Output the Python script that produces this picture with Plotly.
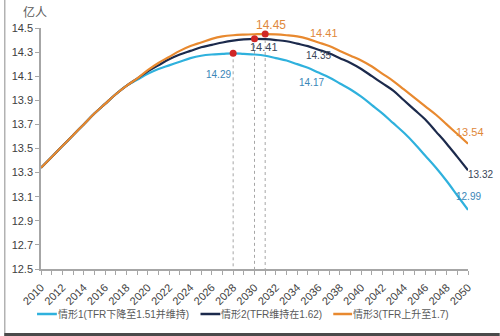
import plotly.graph_objects as go

# Population projections, 亿人, 2010-2050
years = list(range(2010, 2051))

scenario1 = [13.34, 13.43, 13.52, 13.61, 13.70, 13.79, 13.87, 13.95, 14.02,
             14.07, 14.12, 14.16, 14.19, 14.22, 14.25, 14.27, 14.28, 14.285, 14.29,
             14.285, 14.28, 14.27, 14.25, 14.23, 14.20, 14.17, 14.13, 14.09, 14.04,
             13.99, 13.93, 13.86, 13.79, 13.71, 13.63, 13.54, 13.44, 13.34, 13.23,
             13.11, 12.99]
scenario2 = [13.34, 13.43, 13.52, 13.61, 13.70, 13.79, 13.87, 13.95, 14.02,
             14.08, 14.14, 14.19, 14.24, 14.28, 14.31, 14.34, 14.36, 14.38, 14.395,
             14.405, 14.41, 14.407, 14.40, 14.39, 14.37, 14.35, 14.32, 14.29, 14.25,
             14.21, 14.16, 14.10, 14.04, 13.98, 13.90, 13.82, 13.74, 13.64, 13.54,
             13.43, 13.32]
scenario3 = [13.34, 13.43, 13.52, 13.61, 13.70, 13.79, 13.87, 13.95, 14.02,
             14.08, 14.15, 14.21, 14.26, 14.31, 14.35, 14.38, 14.41, 14.43, 14.44,
             14.445, 14.448, 14.45, 14.447, 14.44, 14.43, 14.41, 14.38, 14.35, 14.31,
             14.27, 14.23, 14.18, 14.12, 14.06, 13.99, 13.92, 13.85, 13.78, 13.70,
             13.62, 13.54]

names = ["情形1(TFR下降至1.51并维持)", "情形2(TFR维持在1.62)", "情形3(TFR上升至1.7)"]
line_colors = ["#2FB1DD", "#1C2A4C", "#E8892F"]
label_colors = ["#3A86B8", "#3A4658", "#E0883A"]
series = [scenario1, scenario2, scenario3]

x_ticks = list(range(2010, 2051, 2))
y_ticks = [12.5, 12.7, 12.9, 13.1, 13.3, 13.5, 13.7, 13.9, 14.1, 14.3, 14.5]

W, H = 500, 336
L, R, T, B = 37, 32, 28, 67
PW, PH = W - L - R, H - T - B


def px(xp):
    return (xp - L) / PW


def py(yp):
    return (H - B - yp) / PH


FONT = "Liberation Sans, Noto Sans CJK SC, sans-serif"

fig = go.Figure()

# main curves
for vals, col in zip(series, line_colors):
    fig.add_trace(go.Scatter(x=years, y=vals, mode="lines",
                             line=dict(color=col, width=2.2, shape="spline"),
                             showlegend=False, hoverinfo="skip"))

# peak markers with dotted drop lines to the axis
peak_idx = [max(range(len(s)), key=lambda i: s[i]) for s in series]
for s, i in zip(series, peak_idx):
    fig.add_trace(go.Scatter(x=[years[i], years[i]], y=[s[i], y_ticks[0]], mode="lines",
                             line=dict(color="#A6A6A6", width=1, dash="dot"),
                             showlegend=False, hoverinfo="skip"))
for s, i in zip(series, peak_idx):
    fig.add_trace(go.Scatter(x=[years[i]], y=[s[i]], mode="markers",
                             marker=dict(color="#D02626", size=7),
                             showlegend=False, hoverinfo="skip"))

# value labels: (series, year, xshift, yshift, size)
labels = [
    (0, years[peak_idx[0]], -15, -21, 10),
    (1, years[peak_idx[1]], 9, -8, 11),
    (2, years[peak_idx[2]], 6, 9, 12),
    (2, 2035, 16, 6, 11),
    (1, 2035, 11, -9, 10),
    (0, 2035, 4, -15, 10),
    (2, 2050, 2, 12, 11),
    (1, 2050, 12, -4, 10),
    (0, 2050, 0, 13, 10),
]
for si, yr, dx, dy, fs in labels:
    v = series[si][years.index(yr)]
    fig.add_annotation(x=yr, y=v, text=f"{v:.2f}", showarrow=False,
                       xshift=dx, yshift=dy,
                       font=dict(family=FONT, size=fs, color=label_colors[si]))

# unit label
fig.add_annotation(xref="paper", yref="paper", x=px(31), y=py(12), text="亿人",
                   xanchor="center", yanchor="middle",
                   showarrow=False, font=dict(family=FONT, size=12, color="#595959"))

# legend drawn below the axis
legend_pos = [(33, 53), (198, 218), (332, 351)]
ly = 314
for (x0, x1), col, name in zip(legend_pos, line_colors, names):
    fig.add_shape(type="line", xref="paper", yref="paper",
                  x0=px(x0), x1=px(x1), y0=py(ly), y1=py(ly),
                  line=dict(color=col, width=2.5))
    fig.add_annotation(xref="paper", yref="paper", x=px(x1 - 1), y=py(ly),
                       xanchor="left", yanchor="middle", text=name, showarrow=False,
                       font=dict(family=FONT, size=10, color="#595959"))

# picture frame on the left and bottom
fig.add_shape(type="line", xref="paper", yref="paper", x0=px(0.5), x1=px(0.5),
              y0=py(0), y1=py(H), line=dict(color="#8C8C8C", width=1))
fig.add_shape(type="rect", xref="paper", yref="paper", x0=px(0), x1=px(W),
              y0=py(H), y1=py(333), line=dict(width=0), fillcolor="#4A4A4A")

fig.update_layout(
    width=W, height=H,
    margin=dict(l=L, r=R, t=T, b=B),
    paper_bgcolor="white", plot_bgcolor="white",
    font=dict(family=FONT, size=11, color="#404040"),
    showlegend=False,
)
fig.update_xaxes(
    range=[2010, 2050], tickvals=x_ticks, ticktext=[str(v) for v in x_ticks],
    tickangle=-45, tickfont=dict(size=11, color="#404040"),
    ticklabelstandoff=2,
    showline=True, linecolor="#A6A6A6", linewidth=1.5,
    ticks="outside", ticklen=4, tickcolor="#A6A6A6",
    minor=dict(dtick=1, tick0=2010, ticks="outside", ticklen=4, tickcolor="#A6A6A6"),
    showgrid=False, zeroline=False,
)
fig.update_yaxes(
    range=[12.5, 14.5], tickvals=y_ticks, ticktext=[f"{v:.1f}" for v in y_ticks],
    tickfont=dict(size=11, color="#404040"),
    showline=True, linecolor="#A6A6A6", linewidth=1.5,
    ticks="outside", ticklen=4, tickcolor="#A6A6A6",
    showgrid=False, zeroline=False,
)

fig.write_html("out.html")
